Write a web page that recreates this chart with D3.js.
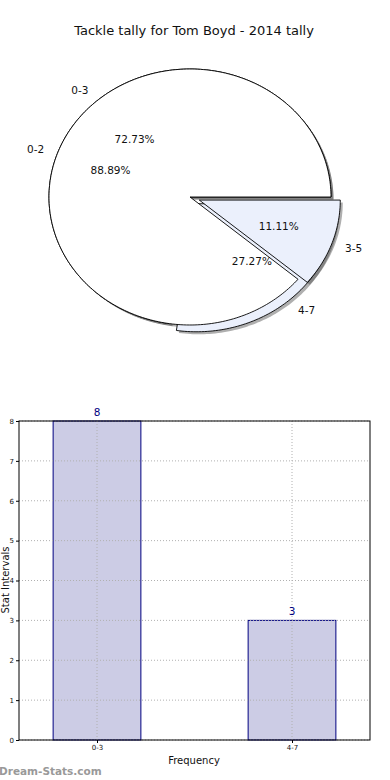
<!DOCTYPE html>
<html>
<head>
<meta charset="utf-8">
<script src="https://cdn.jsdelivr.net/npm/d3@7"></script>
<style>
  html, body { margin: 0; padding: 0; background: #fff; }
  svg { display: block; font-family: "DejaVu Sans", sans-serif; }
</style>
</head>
<body>
<svg id="chart" width="390" height="780"></svg>
<script>
const title = "Tackle tally for Tom Boyd - 2014 tally";

// pie drawn first (back)
const pieLabelsA = ["0-3", "4-7"];
const pieValuesA = [8, 3];
// pie drawn second (front)
const pieLabelsB = ["0-2", "3-5"];
const pieValuesB = [8, 1];
const explode = [0, 0.07];

const barCategories = ["0-3", "4-7"];
const barValues = [8, 3];
const yTicks = [0, 1, 2, 3, 4, 5, 6, 7, 8];

const svg = d3.select("#chart");

svg.append("text")
  .attr("x", 194).attr("y", 35)
  .attr("text-anchor", "middle")
  .attr("font-size", 13)
  .attr("fill", "#111")
  .text(title);

// ---- pies (elliptical, matplotlib style) ----
const cx = 190, cy = 197, rx = 141, ry = 128;
const fills = ["#ffffff", "#ebf0fc"];

const pie = d3.pie().sort(null).startAngle(0).endAngle(2 * Math.PI);

function pt(ox, oy, a, k) {
  return [ox + rx * k * Math.cos(a), oy - ry * k * Math.sin(a)];
}

function wedge(ox, oy, a0, a1) {
  const n = Math.max(4, Math.ceil((a1 - a0) / 0.02));
  const pts = [[ox, oy]];
  for (let i = 0; i <= n; i++) pts.push(pt(ox, oy, a0 + (a1 - a0) * i / n, 1));
  return d3.line()(pts) + "Z";
}

function slices(values) {
  return pie(values).map((d, i) => {
    const mid = (d.startAngle + d.endAngle) / 2;
    const e = explode[i];
    return {
      a0: d.startAngle, a1: d.endAngle, mid, i,
      ox: cx + rx * e * Math.cos(mid),
      oy: cy - ry * e * Math.sin(mid)
    };
  });
}

const sA = slices(pieValuesA);
const sB = slices(pieValuesB);

const gPie = svg.append("g");

// shadows under everything
[sA, sB].forEach(s => {
  gPie.selectAll(null).data(s).enter().append("path")
    .attr("d", d => wedge(d.ox + 2.5, d.oy + 2.5, d.a0, d.a1))
    .attr("fill", "#4d4d4d")
    .attr("fill-opacity", 0.45)
    .attr("stroke", "none");
});

[sA, sB].forEach(s => {
  gPie.selectAll(null).data(s).enter().append("path")
    .attr("d", d => wedge(d.ox, d.oy, d.a0, d.a1))
    .attr("fill", d => fills[d.i])
    .attr("stroke", "#000")
    .attr("stroke-width", 0.9)
    .attr("stroke-linejoin", "round");
});

function pieText(s, labels, values) {
  const total = d3.sum(values);
  s.forEach(d => {
    const [lx, ly] = pt(d.ox, d.oy, d.mid, 1.1);
    gPie.append("text")
      .attr("x", lx).attr("y", ly)
      .attr("dy", "0.35em")
      .attr("text-anchor", Math.cos(d.mid) >= 0 ? "start" : "end")
      .attr("font-size", 10.5)
      .attr("fill", "#111")
      .text(labels[d.i]);
    const [px, py] = pt(d.ox, d.oy, d.mid, 0.6);
    gPie.append("text")
      .attr("x", px).attr("y", py)
      .attr("dy", "0.35em")
      .attr("text-anchor", "middle")
      .attr("font-size", 10.5)
      .attr("fill", "#111")
      .text((values[d.i] / total * 100).toFixed(2) + "%");
  });
}
pieText(sA, pieLabelsA, pieValuesA);
pieText(sB, pieLabelsB, pieValuesB);

// ---- bar chart ----
const plot = { left: 19, right: 370, top: 421, bottom: 740 };
const x = d3.scaleLinear().domain([-0.4, 1.4]).range([plot.left, plot.right]);
const y = d3.scaleLinear().domain([0, 8]).range([plot.bottom, plot.top]);
const barW = 0.45;

const gBar = svg.append("g");

gBar.selectAll(null).data(barValues).enter().append("rect")
  .attr("x", (d, i) => x(i - barW / 2))
  .attr("y", d => y(d))
  .attr("width", (d, i) => x(i + barW / 2) - x(i - barW / 2))
  .attr("height", d => y(0) - y(d))
  .attr("fill", "#cccce5")
  .attr("stroke", "#000080")
  .attr("stroke-width", 1);

// grid
gBar.selectAll(null).data(yTicks).enter().append("line")
  .attr("x1", plot.left).attr("x2", plot.right)
  .attr("y1", d => y(d)).attr("y2", d => y(d))
  .attr("stroke", "#b0b0b0").attr("stroke-dasharray", "1,2");
gBar.selectAll(null).data(barCategories).enter().append("line")
  .attr("x1", (d, i) => x(i)).attr("x2", (d, i) => x(i))
  .attr("y1", plot.top).attr("y2", plot.bottom)
  .attr("stroke", "#b0b0b0").attr("stroke-dasharray", "1,2");

// frame
gBar.append("rect")
  .attr("x", plot.left).attr("y", plot.top)
  .attr("width", plot.right - plot.left).attr("height", plot.bottom - plot.top)
  .attr("fill", "none").attr("stroke", "#000").attr("stroke-width", 1);

// axes
const yAxis = d3.axisLeft(y).tickValues(yTicks).tickSize(3).tickPadding(2).tickFormat(d3.format("d"));
gBar.append("g").attr("transform", `translate(${plot.left},0)`).call(yAxis)
  .call(g => g.select(".domain").remove())
  .call(g => g.selectAll("text").attr("font-size", 7).attr("font-family", "DejaVu Sans").attr("fill", "#111"));

const xAxis = d3.axisBottom(x).tickValues([0, 1]).tickSize(3).tickPadding(2)
  .tickFormat(i => barCategories[i]);
gBar.append("g").attr("transform", `translate(0,${plot.bottom})`).call(xAxis)
  .call(g => g.select(".domain").remove())
  .call(g => g.selectAll("text").attr("font-size", 7).attr("font-family", "DejaVu Sans").attr("fill", "#111"));

// value labels
gBar.selectAll(null).data(barValues).enter().append("text")
  .attr("x", (d, i) => x(i))
  .attr("y", d => y(d) - 5)
  .attr("text-anchor", "middle")
  .attr("font-size", 10.5)
  .attr("fill", "#000080")
  .text(d => d);

svg.append("text")
  .attr("transform", "translate(9,580) rotate(-90)")
  .attr("text-anchor", "middle")
  .attr("font-size", 10)
  .attr("fill", "#111")
  .text("Stat Intervals");

svg.append("text")
  .attr("x", 194).attr("y", 764)
  .attr("text-anchor", "middle")
  .attr("font-size", 10)
  .attr("fill", "#111")
  .text("Frequency");

svg.append("text")
  .attr("x", -1).attr("y", 775)
  .attr("font-size", 10.5)
  .attr("font-weight", "bold")
  .attr("fill", "#999")
  .text("Dream-Stats.com");
</script>
</body>
</html>
